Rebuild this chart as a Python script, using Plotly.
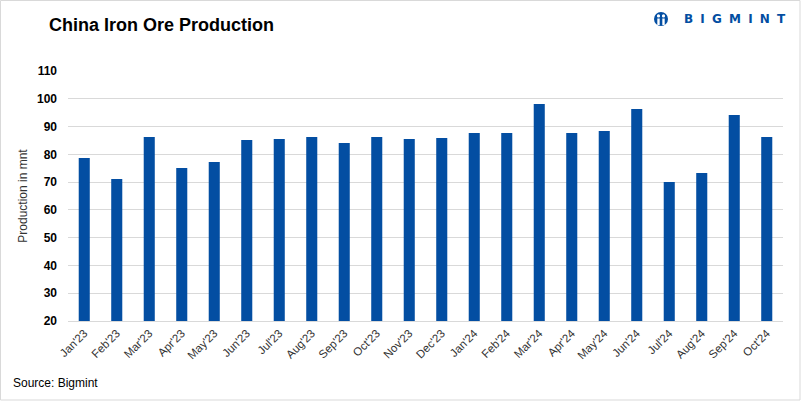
import plotly.graph_objects as go

months = ["Jan'23", "Feb'23", "Mar'23", "Apr'23", "May'23", "Jun'23", "Jul'23", "Aug'23",
          "Sep'23", "Oct'23", "Nov'23", "Dec'23", "Jan'24", "Feb'24", "Mar'24", "Apr'24",
          "May'24", "Jun'24", "Jul'24", "Aug'24", "Sep'24", "Oct'24"]
production = [78.7, 71.1, 86.2, 75.1, 77.2, 85.2, 85.5, 86.2, 84.1, 86.2, 85.5,
              85.9, 87.7, 87.7, 98.1, 87.7, 88.4, 96.3, 70.0, 73.3, 94.2, 86.2]
y_ticks = [20, 30, 40, 50, 60, 70, 80, 90, 100, 110]

W, H = 801, 401
L, R, T, B = 68, 18, 71, 80
pw, ph = W - L - R, H - T - B

def px(x):
    return (x - L) / pw

def py(y):
    return 1 - (y - T) / ph

BLUE = "#034EA2"
FONT = "Liberation Sans, Arial, sans-serif"

fig = go.Figure(go.Bar(x=months, y=production, marker=dict(color=BLUE, line=dict(width=0)),
                       width=0.34))

fig.update_layout(
    width=W, height=H,
    margin=dict(l=L, r=R, t=T, b=B),
    paper_bgcolor="white", plot_bgcolor="white",
    font=dict(family=FONT, color="#000"),
    showlegend=False,
    xaxis=dict(tickangle=-45, tickfont=dict(size=11.5, color="#333"), showgrid=False,
               showline=True, linecolor="#d9d9d9", linewidth=1, ticks="", ticklen=0),
    yaxis=dict(range=[20, 110], tickvals=y_ticks, ticktext=["<b>%d</b>" % v for v in y_ticks],
               showgrid=True, gridcolor="#d9d9d9",
               gridwidth=1, zeroline=False, ticks="", ticklabelstandoff=10,
               tickfont=dict(size=12, color="#000", family=FONT),
               title=dict(text="Production in mnt", font=dict(size=12, color="#333"), standoff=6)),
)

ann = []
ann.append(dict(text="<b>China Iron Ore Production</b>", x=px(47), y=py(25), xref="paper", yref="paper",
                xanchor="left", yanchor="middle", showarrow=False,
                font=dict(size=18, color="#000", family=FONT)))
ann.append(dict(text="Source: Bigmint", x=px(11), y=py(383), xref="paper", yref="paper",
                xanchor="left", yanchor="middle", showarrow=False,
                font=dict(size=12, color="#000", family=FONT)))
sp = "\u2002\u200a"
ann.append(dict(text="<b>" + sp.join("BIGMINT") + "</b>", x=px(682), y=py(19), xref="paper", yref="paper",
                xanchor="left", yanchor="middle", showarrow=False,
                font=dict(size=12, color=BLUE, family="DejaVu Sans, sans-serif")))
fig.update_layout(annotations=ann)

shapes = []
# border
shapes.append(dict(type="rect", xref="paper", yref="paper", x0=px(0.5), x1=px(800), y0=py(400), y1=py(0.5),
                   line=dict(color="#d9d9d9", width=1), fillcolor="rgba(0,0,0,0)", layer="below"))
# logo icon
shapes.append(dict(type="circle", xref="paper", yref="paper", x0=px(654), x1=px(668), y0=py(26), y1=py(12),
                   line=dict(width=0), fillcolor=BLUE))
for cx in (658.5, 663.5):
    shapes.append(dict(type="circle", xref="paper", yref="paper", x0=px(cx - 1.6), x1=px(cx + 1.6),
                       y0=py(17.5), y1=py(14.3), line=dict(width=0), fillcolor="white"))
    shapes.append(dict(type="rect", xref="paper", yref="paper", x0=px(cx - 1.2), x1=px(cx + 1.2),
                       y0=py(25), y1=py(18.5), line=dict(width=0), fillcolor="white"))
fig.update_layout(shapes=shapes)

fig.write_html("out.html", config={"displayModeBar": False},
               post_script="document.body.style.margin='0';document.body.style.padding='0';")
